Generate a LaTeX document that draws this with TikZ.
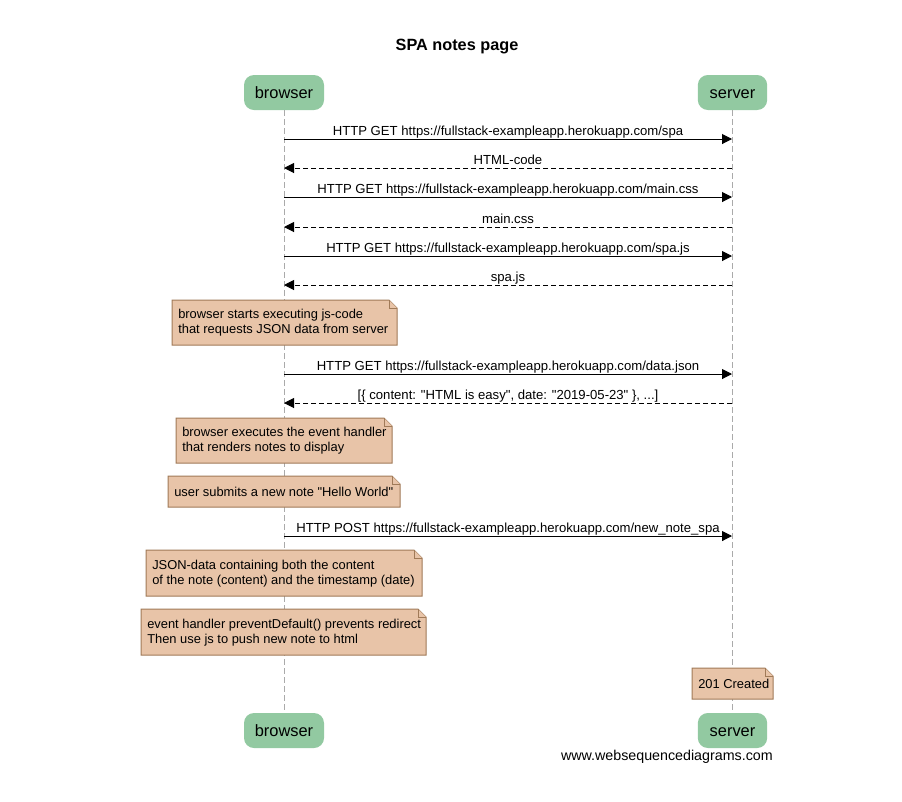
\documentclass[tikz,border=0pt]{standalone}
\usepackage{fontspec}
\setmainfont{Liberation Sans}
\usetikzlibrary{arrows.meta}
\definecolor{partfill}{HTML}{92C9A1}
\definecolor{notefill}{HTML}{E8C4A8}
\definecolor{notedraw}{HTML}{A07A58}
\definecolor{lifeline}{HTML}{AAAAAA}
\tikzset{
  part/.style={fill=partfill, rounded corners=7.5pt, minimum width=60pt, minimum height=26.25pt, inner sep=0pt, text height=10.3pt, text depth=1.1pt, font=\fontsize{12.3}{14}\selectfont},
  msglabel/.style={anchor=base, inner sep=0pt, font=\fontsize{9.85}{11}\selectfont},
  msg/.style={draw=black, line width=0.75pt, -{Triangle[length=7.5pt,width=7.5pt]}},
  reply/.style={msg, dash pattern=on 3.75pt off 2.25pt},
  life/.style={draw=lifeline, line width=0.75pt, dash pattern=on 4.5pt off 2.25pt},
  notetext/.style={anchor=west, inner sep=0pt, align=left, font=\fontsize{9.67}{11.25}\selectfont},
  noteshape/.style={fill=notefill, draw=notedraw, line width=0.75pt, line join=miter},
}
% \Note{name}{x1}{y1}{x2}{y2}{text}
\newcommand{\Note}[6]{%
  \path[noteshape] (#2,#3) -- (#4-8,#3) -- (#4,#3+8) -- (#4,#5) -- (#2,#5) -- cycle;
  \path[noteshape] (#4-8,#3) -- (#4-8,#3+8) -- (#4,#3+8);
  \node[notetext] (#1) at (#2+6,{(#3+#5)/2+0.5}) {#6};
}
\begin{document}
\begin{tikzpicture}[x=0.75pt, y=-0.75pt]
\useasboundingbox (0,0) rectangle (902,801);
\fill[white] (0,0) rectangle (902,801);

\node[font=\bfseries\fontsize{12.2}{14}\selectfont, inner sep=0pt] (title) at (457,47) {SPA notes page};

% participants
\node[part] (bt) at (284,92.5) {browser};
\node[part, minimum width=52pt] (st) at (732.5,92.5) {server};
\node[part] (bb) at (284,730.5) {browser};
\node[part, minimum width=52pt] (sb) at (732.5,730.5) {server};

% lifelines
\draw[life] (bt.south) -- (bb.north);
\draw[life] (st.south) -- (sb.north);

% message coordinates
\foreach \i/\y in {1/139,2/168,3/197,4/227,5/256,6/285,7/374,8/403,9/536}{
  \coordinate (b\i) at (284,\y);
  \coordinate (s\i) at (732,\y);
}

\draw[msg] (b1) -- (s1) node[msglabel, pos=0.5, yshift=2.8pt] (m1) {HTTP GET https://fullstack-exampleapp.herokuapp.com/spa};
\draw[reply] (s2) -- (b2) node[msglabel, pos=0.5, yshift=2.8pt] (m2) {HTML-code};
\draw[msg] (b3) -- (s3) node[msglabel, pos=0.5, yshift=2.8pt] (m3) {HTTP GET https://fullstack-exampleapp.herokuapp.com/main.css};
\draw[reply] (s4) -- (b4) node[msglabel, pos=0.5, yshift=2.8pt] (m4) {main.css};
\draw[msg] (b5) -- (s5) node[msglabel, pos=0.5, yshift=2.8pt] (m5) {HTTP GET https://fullstack-exampleapp.herokuapp.com/spa.js};
\draw[reply] (s6) -- (b6) node[msglabel, pos=0.5, yshift=2.8pt] (m6) {spa.js};

\Note{n1}{172}{300}{397}{345}{browser starts executing js-code\\that requests JSON data from server}

\draw[msg] (b7) -- (s7) node[msglabel, pos=0.5, yshift=2.8pt] (m7) {HTTP GET https://fullstack-exampleapp.herokuapp.com/data.json};
\draw[reply] (s8) -- (b8) node[msglabel, pos=0.5, yshift=2.8pt] (m8) {[\{ content: \textquotedbl HTML is easy\textquotedbl, date: \textquotedbl 2019-05-23\textquotedbl\ \}, ...]};

\Note{n2}{176}{418}{392}{463}{browser executes the event handler\\that renders notes to display}
\Note{n3}{168}{476}{400}{507}{user submits a new note \textquotedbl Hello World\textquotedbl}

\draw[msg] (b9) -- (s9) node[msglabel, pos=0.5, yshift=2.8pt] (m9) {HTTP POST https://fullstack-exampleapp.herokuapp.com/new\_note\_spa};

\Note{n4}{146}{550}{422}{596}{JSON-data containing both the content\\of the note (content) and the timestamp (date)}
\Note{n5}{141}{609}{426}{655}{event handler preventDefault() prevents redirect\\Then use js to push new note to html}
\Note{n6}{692}{668}{773}{699}{201 Created}

\node[anchor=east, inner sep=0pt, font=\fontsize{10.7}{12}\selectfont] (footer) at (773,757) {www.websequencediagrams.com};
\end{tikzpicture}
\end{document}
